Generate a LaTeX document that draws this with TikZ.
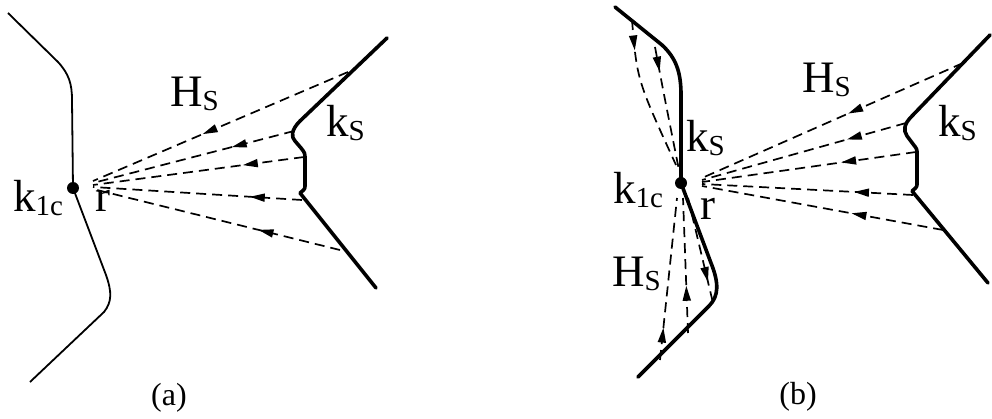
\documentclass[tikz,border=0pt]{standalone}
\usepackage{fontspec}
\setmainfont{Liberation Serif}
\usetikzlibrary{arrows.meta,decorations.markings}
\newcommand\subs[1]{\raisebox{-4pt}{\fontsize{29}{29}\selectfont #1}}
\tikzset{
  thincurve/.style={line width=1.8pt, line join=round},
  thickcurve/.style={line width=3.6pt, line join=round, line cap=round},
  ray/.style={line width=1.7pt, dash pattern=on 10pt off 6pt},
  tipat/.style={postaction={decorate}, decoration={markings,
      mark=at position #1 with {\arrow{Triangle[length=15pt,width=8pt]}}}},
  lab/.style={inner sep=0pt, anchor=base west, font=\fontsize{45}{45}\selectfont},
  captext/.style={inner sep=0pt, font=\fontsize{32}{32}\selectfont},
  dotnode/.style={circle, fill, inner sep=0pt, minimum size=12pt},
}
\begin{document}
\begin{tikzpicture}[x=1pt,y=-1pt]
\useasboundingbox (0,0) rectangle (992,419);

% ---------------- panel (a) ----------------
\draw[thincurve] (8,13) -- (58,62) .. controls (69,74) and (72,84) .. (72,100) -- (73,188)
  -- (106,275) .. controls (112,292) and (112,302) .. (104,312) -- (30,382);
\node[dotnode] (ka) at (73,188) {};
\draw[thickcurve] (387,38) -- (300,121) .. controls (291,130) and (291,137) .. (295,141)
  -- (301,148) .. controls (305,153) .. (305,160) -- (305,185) .. controls (305,189) .. (300,193) -- (376,288);

\coordinate (a1) at (348,72);
\coordinate (a2) at (294,131);
\coordinate (a3) at (304,157);
\coordinate (a4) at (302,200);
\coordinate (a5) at (340,250);
\coordinate (ea1) at (93,181);
\coordinate (ea2) at (93,183);
\coordinate (ea3) at (93,185);
\coordinate (ea4) at (93,187);
\coordinate (ea5) at (93,189);
\draw[ray, tipat=0.57] (a1) -- (ea1);
\draw[ray, tipat=0.31] (a2) -- (ea2);
\draw[ray, tipat=0.29] (a3) -- (ea3);
\draw[ray, tipat=0.25] (a4) -- (ea4);
\draw[ray, tipat=0.33] (a5) -- (ea5);

\node[lab] (HSa) at (170,107) {H\subs{S}};
\node[lab] (kSa) at (326,137) {k\subs{S}};
\node[lab] (k1ca) at (13,212) {k\subs{1c}};
\node[lab] (ra) at (95,212) {r};
\node[captext] (capa) at (169,398) {(a)};

% ---------------- panel (b) ----------------
\draw[thickcurve] (615,7) -- (662,45) .. controls (676,58) and (681,72) .. (681,95) -- (681,183)
  -- (711,263) .. controls (719,283) and (719,296) .. (709,306) -- (638,377);
\node[dotnode] (kb) at (681,183) {};
\draw[thickcurve] (990,35) -- (912,116) .. controls (904,124) and (903,130) .. (907,136)
  -- (913,144) .. controls (917,149) .. (917,154) -- (917,183) .. controls (917,187) .. (912,191) -- (988,283);

\coordinate (b1) at (963,63);
\coordinate (b2) at (906,123);
\coordinate (b3) at (916,152);
\coordinate (b4) at (913,195);
\coordinate (b5) at (943,230);
\coordinate (eb1) at (702,178);
\coordinate (eb2) at (702,180);
\coordinate (eb3) at (702,182);
\coordinate (eb4) at (702,184);
\coordinate (eb5) at (702,186);
\draw[ray, tipat=0.44] (b1) -- (eb1);
\draw[ray, tipat=0.29] (b2) -- (eb2);
\draw[ray, tipat=0.35] (b3) -- (eb3);
\draw[ray, tipat=0.28] (b4) -- (eb4);
\draw[ray, tipat=0.38] (b5) -- (eb5);

% rays along the left curve of (b)
\coordinate (t1) at (632,20);
\coordinate (t2) at (655,47);
\coordinate (et1) at (676,165);
\coordinate (et2) at (679,170);
\draw[ray, tipat=0.2] (t1) .. controls (637,80) .. (et1);
\draw[ray, tipat=0.2] (t2) .. controls (664,95) .. (et2);
\coordinate (s1) at (660,360);
\coordinate (s2) at (688,333);
\coordinate (s3) at (713,303);
\coordinate (es1) at (677,198);
\coordinate (es2) at (683,198);
\coordinate (es3) at (688,198);
\draw[ray, tipat=0.2] (s1) -- (es1);
\draw[ray, tipat=0.35] (s2) -- (es2);
\draw[ray, tipat=0.8] (es3) -- (s3);

\node[lab] (HSb) at (802,93) {H\subs{S}};
\node[lab] (kSb) at (938,137) {k\subs{S}};
\node[lab] (kSm) at (686,152) {k\subs{S}};
\node[lab] (k1cb) at (613,204) {k\subs{1c}};
\node[lab] (rb) at (700,220) {r};
\node[lab] (HSl) at (612,287) {H\subs{S}};
\node[captext] (capb) at (798,397) {(b)};
\end{tikzpicture}
\end{document}
